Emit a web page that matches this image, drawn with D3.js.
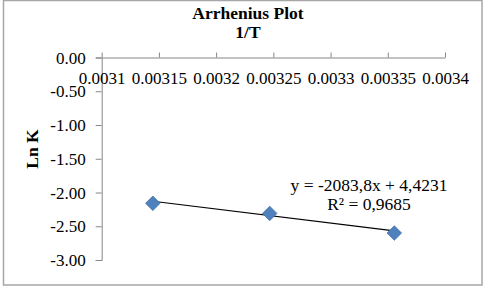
<!DOCTYPE html>
<html>
<head>
<meta charset="utf-8">
<script src="https://cdn.jsdelivr.net/npm/d3@7"></script>
<style>
  body { margin: 0; background: #fff; }
</style>
</head>
<body>
<div id="chart"></div>
<script>
// valeurs (1/T en K^-1, ln k)
const invT = [0.0031447, 0.0032468, 0.0033557];
const lnK = [-2.16, -2.31, -2.60];
const xTicks = [0.0031, 0.00315, 0.0032, 0.00325, 0.0033, 0.00335, 0.0034];
const yTicks = [0, -0.5, -1, -1.5, -2, -2.5, -3];
const slope = -2083.8, intercept = 4.4231;
const eqLabel = "y = -2083,8x + 4,4231";
const r2Label = "R² = 0,9685";

const width = 488, height = 286,
    fontFamily = "'Liberation Serif', 'DejaVu Serif', serif";

const x = d3.scaleLinear().domain([0.0031, 0.0034]).range([101.7, 445]);
const y = d3.scaleLinear().domain([0, -3]).range([57.5, 260]);

const svg = d3.select("#chart").append("svg")
    .attr("width", width)
    .attr("height", height)
    .style("font-family", fontFamily);

// cadre du graphique
svg.append("rect")
    .attr("x", 3.5).attr("y", 0.5)
    .attr("width", 478.5).attr("height", 284.5)
    .attr("fill", "#fff")
    .attr("stroke", "#a6a6a6")
    .attr("stroke-width", 1.5);

function label(txt, px, py, bold) {
    return svg.append("text")
        .attr("x", px).attr("y", py)
        .attr("text-anchor", "middle")
        .style("font-family", fontFamily)
        .style("font-size", "17.5px")
        .style("font-weight", bold ? "bold" : "normal")
        .text(txt);
}

// titres
label("Arrhenius Plot", 248, 19, true);
label("1/T", 248, 38, true);
label("Ln K", 0, 0, true).attr("transform", "translate(38,149) rotate(-90)");

// axe Y
const yAxis = svg.append("g")
    .attr("transform", "translate(" + x(0.0031) + ",0)")
    .call(d3.axisLeft(y).tickValues(yTicks).tickSize(6).tickPadding(10));
yAxis.attr("font-family", null);
yAxis.selectAll("line, path").attr("stroke", "#868686");
yAxis.selectAll("text")
    .style("font-family", fontFamily)
    .style("font-size", "17px")
    .attr("dy", "0.33em")
    .text(d => d3.format(".2f")(d).replace("−", "-"));

// axe X (placé en y = 0, graduations vers le haut, libellés dessous)
const xAxis = svg.append("g")
    .attr("transform", "translate(0," + y(0) + ")")
    .call(d3.axisTop(x).tickValues(xTicks).tickSize(5).tickSizeOuter(0).tickFormat(d => String(d)));
xAxis.attr("font-family", null);
xAxis.selectAll("line, path").attr("stroke", "#868686");
xAxis.selectAll("text")
    .style("font-family", fontFamily)
    .style("font-size", "17px")
    .attr("y", 26.5)
    .attr("dy", 0);

// courbe de tendance
const x0 = d3.min(invT), x1 = d3.max(invT);
svg.append("line")
    .attr("x1", x(x0)).attr("y1", y(slope * x0 + intercept))
    .attr("x2", x(x1)).attr("y2", y(slope * x1 + intercept))
    .attr("stroke", "#000")
    .attr("stroke-width", 1.2);

// points
svg.selectAll("path.pt")
    .data(invT.map((d, i) => [d, lnK[i]]))
    .enter().append("path")
    .attr("class", "pt")
    .attr("d", d3.symbol().type(d3.symbolDiamond2).size(135))
    .attr("transform", d => "translate(" + x(d[0]) + "," + y(d[1]) + ")")
    .attr("fill", "#4f81bd")
    .attr("stroke", "#3f6ea8")
    .attr("stroke-width", 0.75);

// équation et R²
label(eqLabel, 369, 191, false);
label(r2Label, 369, 209.5, false);
</script>
</body>
</html>
